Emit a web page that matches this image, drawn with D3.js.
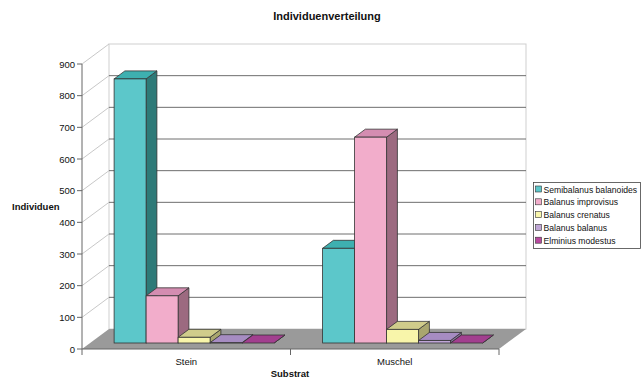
<!DOCTYPE html>
<html>
<head>
<meta charset="utf-8">
<script src="https://cdn.jsdelivr.net/npm/d3@7"></script>
<style>
  body { margin: 0; background: #fff; }
  text { font-family: "Liberation Sans", Arial, sans-serif; fill: #111; }
</style>
</head>
<body>
<svg id="chart" width="642" height="381"></svg>
<script>
"use strict";

const categories = ["Stein", "Muschel"];
const seriesNames = ["Semibalanus balanoides", "Balanus improvisus", "Balanus crenatus",
                     "Balanus balanus", "Elminius modestus"];
const steinValues = [834, 149, 18, 1, 0];
const muschelValues = [299, 650, 43, 8, 0];
const yTicks = [0, 100, 200, 300, 400, 500, 600, 700, 800, 900];

// front, top, side colour for each series
const frontColors = ["#5cc7ca", "#f2adcb", "#f8f5aa", "#bfa6d6", "#b8499f"];
const topColors = ["#3eb0b0", "#d48db1", "#d0cc8b", "#a68cc2", "#a23f8f"];
const sideColors = ["#2e7a78", "#9c6a80", "#a9a66f", "#8a73a0", "#7d3470"];

// plot geometry (front plane) and depth offset
const plotLeft = 82, plotRight = 499, plotBase = 349, plotTop = 64;
const depthX = 27, depthY = -20;
const zFront = 0.3, zBack = 0.7;

const svg = d3.select("#chart");

const xScale = d3.scaleBand().domain(categories).range([plotLeft, plotRight]);
const innerScale = d3.scaleBand().domain(seriesNames)
    .range([24, 24 + 5 * 32]);
const yScale = d3.scaleLinear().domain([0, 900]).range([plotBase, plotTop]);

const line = d3.line();

// back wall
svg.append("rect")
    .attr("x", plotLeft + depthX).attr("y", plotTop + depthY)
    .attr("width", plotRight - plotLeft).attr("height", plotBase - plotTop)
    .attr("fill", "#fff").attr("stroke", "#cfcfcf").attr("stroke-width", 1);

// gridlines on back wall
svg.selectAll(".grid").data(yTicks.filter(t => t > 0 && t < 900)).join("line")
    .attr("x1", plotLeft + depthX).attr("x2", plotRight + depthX)
    .attr("y1", d => yScale(d) + depthY).attr("y2", d => yScale(d) + depthY)
    .attr("stroke", "#6e6e6e").attr("stroke-width", 1);

// left wall slanted lines
svg.selectAll(".side").data(yTicks.filter(t => t > 0)).join("line")
    .attr("x1", plotLeft).attr("x2", plotLeft + depthX)
    .attr("y1", d => yScale(d)).attr("y2", d => yScale(d) + depthY)
    .attr("stroke", "#c8c8c8").attr("stroke-width", 1);

// floor
svg.append("path")
    .attr("d", line([[plotLeft, plotBase], [plotRight, plotBase],
                     [plotRight + depthX, plotBase + depthY],
                     [plotLeft + depthX, plotBase + depthY]]) + "Z")
    .attr("fill", "#9a9a9a");

// y axis line and ticks
svg.append("line").attr("x1", plotLeft).attr("x2", plotLeft)
    .attr("y1", plotTop).attr("y2", plotBase).attr("stroke", "#666");
svg.selectAll(".ytick").data(yTicks).join("line")
    .attr("x1", plotLeft - 5).attr("x2", plotLeft)
    .attr("y1", d => yScale(d)).attr("y2", d => yScale(d))
    .attr("stroke", "#666");
svg.selectAll(".ylab").data(yTicks).join("text")
    .attr("x", plotLeft - 7).attr("y", d => yScale(d) + 3.5)
    .attr("text-anchor", "end").attr("font-size", 9.5)
    .text(d => d);

// x axis line and ticks
svg.append("line").attr("x1", plotLeft).attr("x2", plotRight)
    .attr("y1", plotBase).attr("y2", plotBase).attr("stroke", "#666");
const xTickPos = [plotLeft].concat(categories.map(c => xScale(c) + xScale.bandwidth()));
svg.selectAll(".xtick").data(xTickPos).join("line")
    .attr("x1", d => d).attr("x2", d => d)
    .attr("y1", plotBase).attr("y2", plotBase + 6).attr("stroke", "#666");
svg.selectAll(".xlab").data(categories).join("text")
    .attr("x", d => xScale(d) + xScale.bandwidth() / 2).attr("y", 365)
    .attr("text-anchor", "middle").attr("font-size", 9.5)
    .text(d => d);

// bars
const valuesByCat = {"Stein": steinValues, "Muschel": muschelValues};
const bars = [];
categories.forEach(c => {
    seriesNames.forEach((s, i) => {
        bars.push({cat: c, idx: i, series: s, value: valuesByCat[c][i]});
    });
});

const fx = depthX * zFront, fy = depthY * zFront;
const bx = depthX * zBack, by = depthY * zBack;

const barG = svg.selectAll(".bar").data(bars).join("g");
barG.each(function(d) {
    const g = d3.select(this);
    const x0 = xScale(d.cat) + innerScale(d.series) + fx;
    const x1 = x0 + innerScale.bandwidth();
    const y0 = yScale(0) + fy;
    const y1 = yScale(d.value) + fy;
    const ddx = bx - fx, ddy = by - fy;
    // right side
    g.append("path")
        .attr("d", line([[x1, y0], [x1 + ddx, y0 + ddy], [x1 + ddx, y1 + ddy], [x1, y1]]) + "Z")
        .attr("fill", sideColors[d.idx]).attr("stroke", "#333").attr("stroke-width", 0.8)
        .attr("stroke-linejoin", "round");
    // top
    g.append("path")
        .attr("d", line([[x0, y1], [x1, y1], [x1 + ddx, y1 + ddy], [x0 + ddx, y1 + ddy]]) + "Z")
        .attr("fill", topColors[d.idx]).attr("stroke", "#333").attr("stroke-width", 0.8)
        .attr("stroke-linejoin", "round");
    // front
    g.append("rect")
        .attr("x", x0).attr("y", y1).attr("width", x1 - x0).attr("height", y0 - y1)
        .attr("fill", frontColors[d.idx]).attr("stroke", "#333").attr("stroke-width", 0.8);
});

// title and axis labels
svg.append("text").attr("x", 327).attr("y", 20)
    .attr("text-anchor", "middle").attr("font-size", 11).attr("font-weight", "bold")
    .text("Individuenverteilung");
svg.append("text").attr("x", 12).attr("y", 210)
    .attr("font-size", 9.5).attr("font-weight", "bold")
    .text("Individuen");
svg.append("text").attr("x", 290).attr("y", 377)
    .attr("text-anchor", "middle").attr("font-size", 9.5).attr("font-weight", "bold")
    .text("Substrat");

// legend
const legend = svg.append("g");
legend.append("rect").attr("x", 533.5).attr("y", 182.5).attr("width", 107).attr("height", 66)
    .attr("fill", "#fff").attr("stroke", "#444").attr("stroke-width", 0.8);
const legItems = legend.selectAll(".leg").data(seriesNames).join("g")
    .attr("transform", (d, i) => `translate(535.5, ${186 + i * 12.8})`);
legItems.append("rect").attr("width", 6).attr("height", 6)
    .attr("fill", (d, i) => frontColors[i]).attr("stroke", "#333").attr("stroke-width", 0.6);
legItems.append("text").attr("x", 8).attr("y", 6.5)
    .attr("font-size", 8.6).text(d => d);
</script>
</body>
</html>
